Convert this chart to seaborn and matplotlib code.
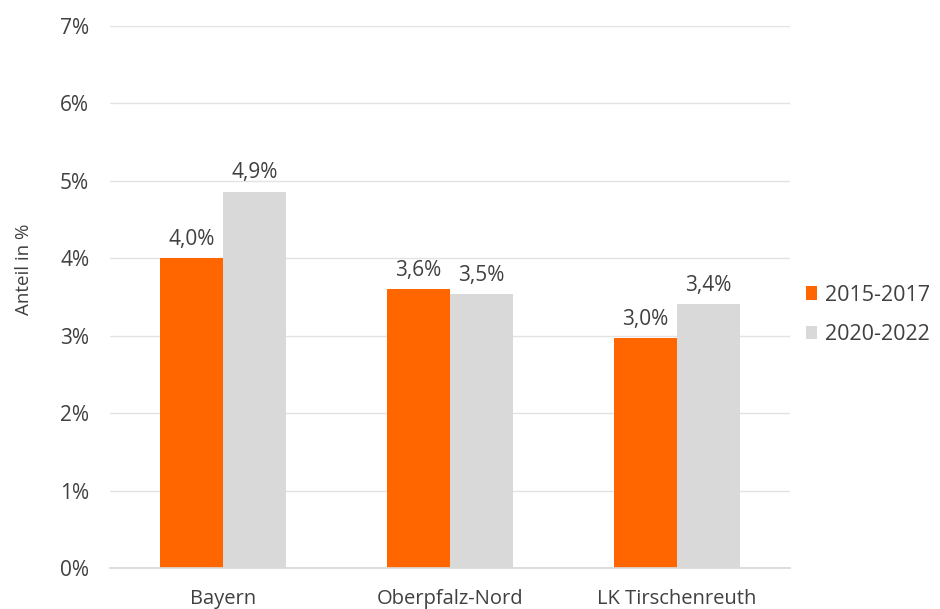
import matplotlib
matplotlib.use("Agg")
import matplotlib.pyplot as plt
import seaborn as sns
import pandas as pd
from matplotlib.ticker import FuncFormatter, MultipleLocator
from matplotlib.patches import Patch

categories = ["Bayern", "Oberpfalz-Nord", "LK Tirschenreuth"]
periods = ["2015-2017", "2020-2022"]
values_2015_2017 = [4.00, 3.60, 2.97]
values_2020_2022 = [4.86, 3.54, 3.41]
colors = ["#FF6600", "#D9D9D9"]

df = pd.DataFrame({
    "Region": categories * 2,
    "Zeitraum": [periods[0]] * 3 + [periods[1]] * 3,
    "Anteil": values_2015_2017 + values_2020_2022,
})

sns.set_theme(style="white")
plt.rcParams["font.family"] = ["Open Sans", "DejaVu Sans"]

fig = plt.figure(figsize=(9.4, 6.09), dpi=100)
ax = fig.add_axes([110/940, 1-568/609, 680/940, (568-26)/609])

sns.barplot(data=df, x="Region", y="Anteil", hue="Zeitraum", palette=colors,
            width=0.556, gap=0, ax=ax, legend=False, saturation=1, linewidth=0)

ax.set_xlim(-0.5, 2.5)
ax.set_ylim(0, 7)
ax.yaxis.set_major_locator(MultipleLocator(1))
ax.yaxis.set_major_formatter(FuncFormatter(lambda v, p: f"{int(round(v))}%"))
ax.grid(axis="y", color="#E3E3E3", linewidth=1)
ax.set_axisbelow(True)
for s in ["top", "right", "left"]:
    ax.spines[s].set_visible(False)
ax.spines["bottom"].set_color("#D9D9D9")
ax.tick_params(axis="y", length=0, labelsize=15, colors="#404040", pad=15)
ax.tick_params(axis="x", length=0, labelsize=14.5, colors="#404040", pad=15)
ax.set_xlabel("")
ax.set_ylabel("Anteil in %", fontsize=13.5, color="#404040")
ax.yaxis.set_label_coords(-0.113, 0.552)

for cont in ax.containers:
    ax.bar_label(cont, labels=[f"{b.get_height():.1f}".replace(".", ",") + "%" for b in cont],
                 padding=6, fontsize=15, color="#404040")

handles = [Patch(facecolor=c, edgecolor="none") for c in colors]
fig.legend(handles, periods, loc="center left", bbox_to_anchor=(797/940, 1-315/609),
           frameon=False, fontsize=15.5, handlelength=0.55, handleheight=0.6,
           handletextpad=0.35, labelspacing=0.85, labelcolor="#404040",
           borderaxespad=0, borderpad=0.4)

fig.savefig("out.png", dpi=100)
